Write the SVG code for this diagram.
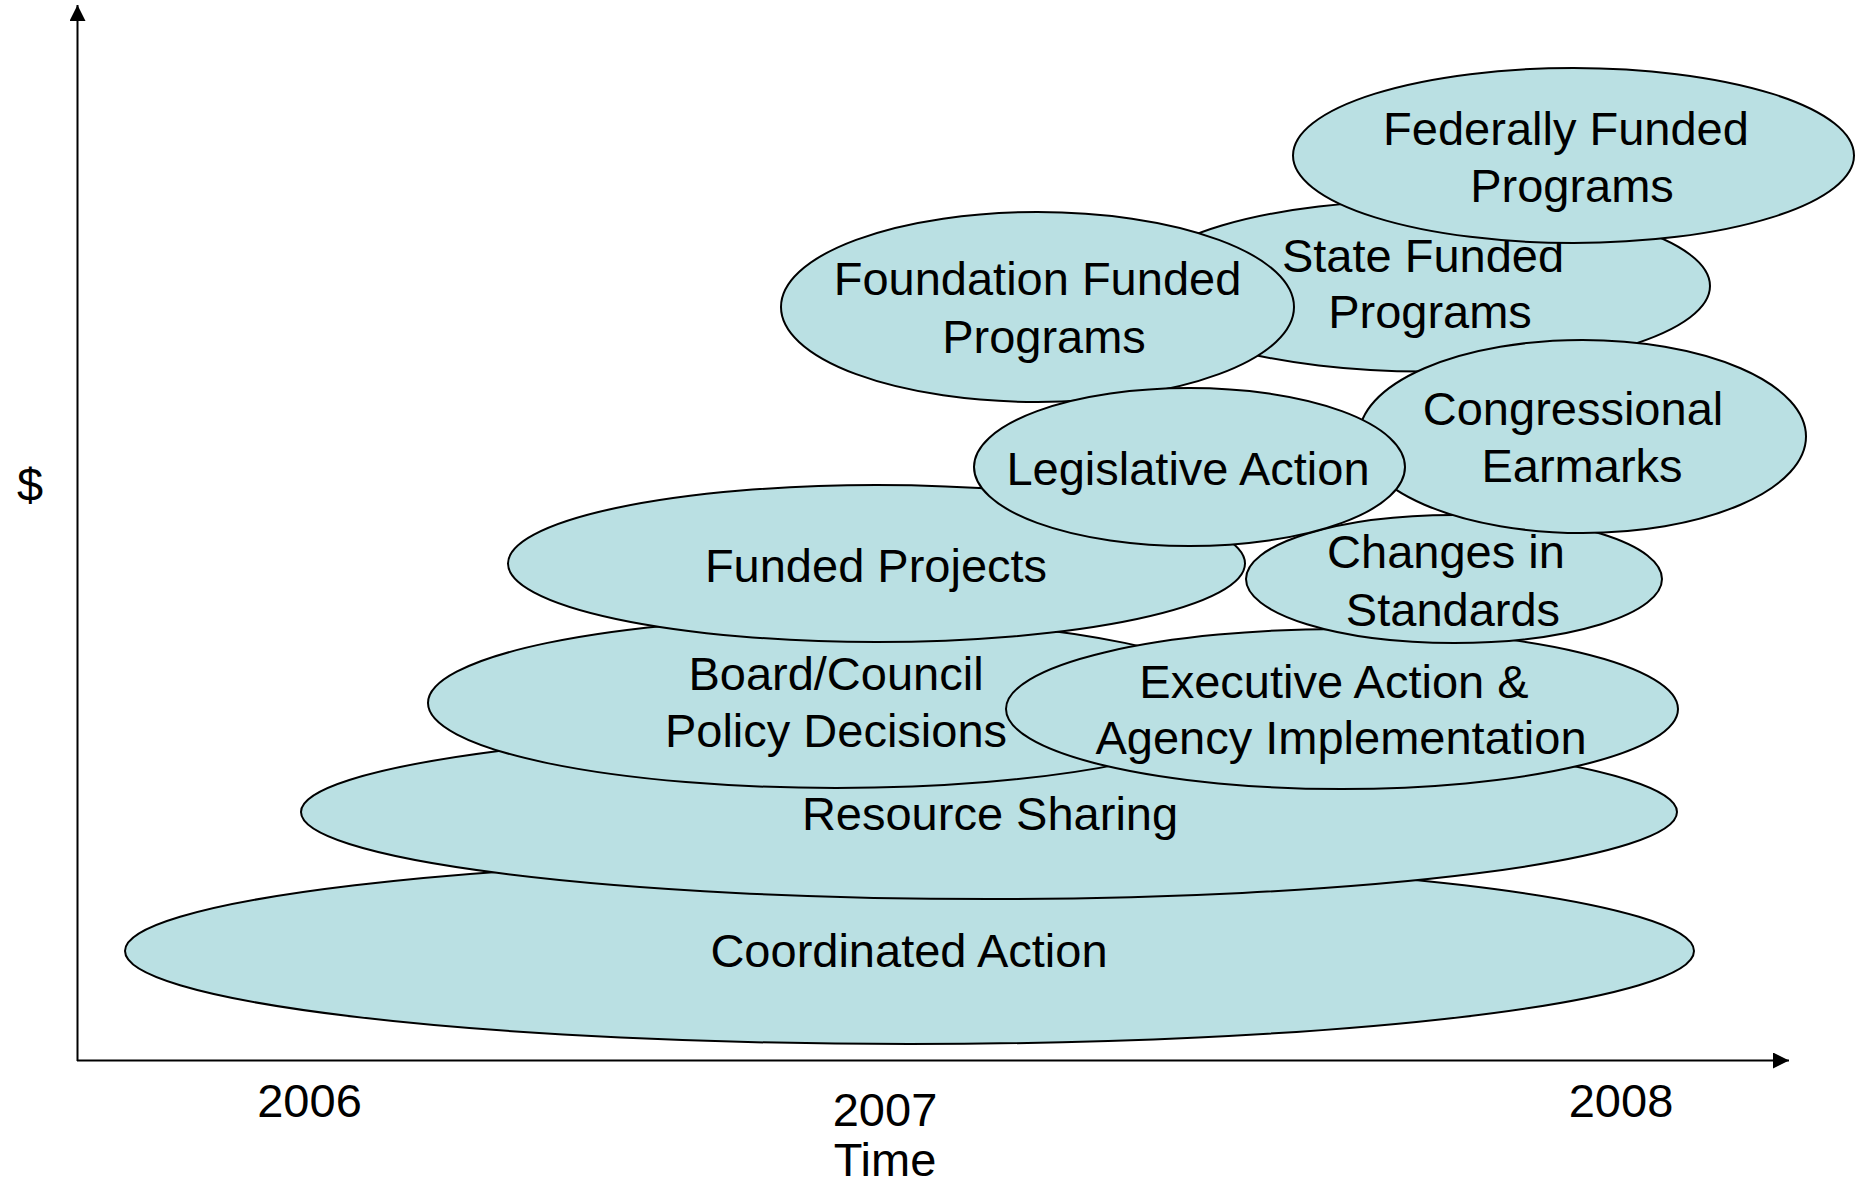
<svg xmlns="http://www.w3.org/2000/svg" width="1873" height="1184" viewBox="0 0 1873 1184">
<style>
.n{fill:#BAE0E3;stroke:#000;stroke-width:2}
.t{font-family:"Liberation Sans",Arial,sans-serif;font-size:47px;fill:#000;text-anchor:middle}
.ax{stroke:#000;stroke-width:2;fill:none}
</style>
<defs>
<marker id="ah" viewBox="0 0 16 16" refX="16" refY="8" markerWidth="16" markerHeight="16" markerUnits="userSpaceOnUse" orient="auto">
<path d="M0,0 L16,8 L0,16 Z" fill="#000"/>
</marker>
</defs>
<rect width="1873" height="1184" fill="#fff"/>
<g id="axes">
<line class="ax" x1="77.5" y1="1061" x2="77.5" y2="5" marker-end="url(#ah)"/>
<line class="ax" x1="77" y1="1060.5" x2="1789" y2="1060.5" marker-end="url(#ah)"/>
</g>
<g id="coordinated-action"><ellipse class="n" cx="909.5" cy="951" rx="784.5" ry="93"/><text class="t" x="909" y="967">Coordinated Action</text></g>
<g id="resource-sharing"><ellipse class="n" cx="989" cy="812" rx="688" ry="87"/><text class="t" x="990" y="830">Resource Sharing</text></g>
<g id="board-council"><ellipse class="n" cx="836" cy="703" rx="408" ry="85"/><text class="t" x="836" y="690">Board/Council</text><text class="t" x="836" y="747">Policy Decisions</text></g>
<g id="funded-projects"><ellipse class="n" cx="876.5" cy="563.5" rx="368.5" ry="78.5"/><text class="t" x="876" y="582">Funded Projects</text></g>
<g id="executive-action"><ellipse class="n" cx="1342" cy="709" rx="336" ry="80"/><text class="t" x="1334" y="698">Executive Action &amp;</text><text class="t" x="1341" y="754">Agency Implementation</text></g>
<g id="changes-in-standards"><ellipse class="n" cx="1454" cy="579" rx="208" ry="64"/><text class="t" x="1446" y="568">Changes in</text><text class="t" x="1453" y="626">Standards</text></g>
<g id="state-funded"><ellipse class="n" cx="1424" cy="286" rx="286" ry="85.5"/><text class="t" x="1423" y="272">State Funded</text><text class="t" x="1430" y="328">Programs</text></g>
<g id="congressional-earmarks"><ellipse class="n" cx="1582.5" cy="436.5" rx="223.5" ry="96.5"/><text class="t" x="1573" y="425">Congressional</text><text class="t" x="1582" y="482">Earmarks</text></g>
<g id="foundation-funded"><ellipse class="n" cx="1037.5" cy="307" rx="256.5" ry="95"/><text class="t" x="1037.5" y="295">Foundation Funded</text><text class="t" x="1044" y="353">Programs</text></g>
<g id="legislative-action"><ellipse class="n" cx="1189.5" cy="467" rx="215.5" ry="79"/><text class="t" x="1188" y="485">Legislative Action</text></g>
<g id="federally-funded"><ellipse class="n" cx="1573.5" cy="155.5" rx="280.5" ry="87.5"/><text class="t" x="1566" y="145">Federally Funded</text><text class="t" x="1572" y="202">Programs</text></g>
<g id="labels">
<text class="t" x="30" y="501">$</text>
<text class="t" x="309.5" y="1117">2006</text>
<text class="t" x="885" y="1126">2007</text>
<text class="t" x="885" y="1176">Time</text>
<text class="t" x="1621" y="1117">2008</text>
</g>
</svg>
